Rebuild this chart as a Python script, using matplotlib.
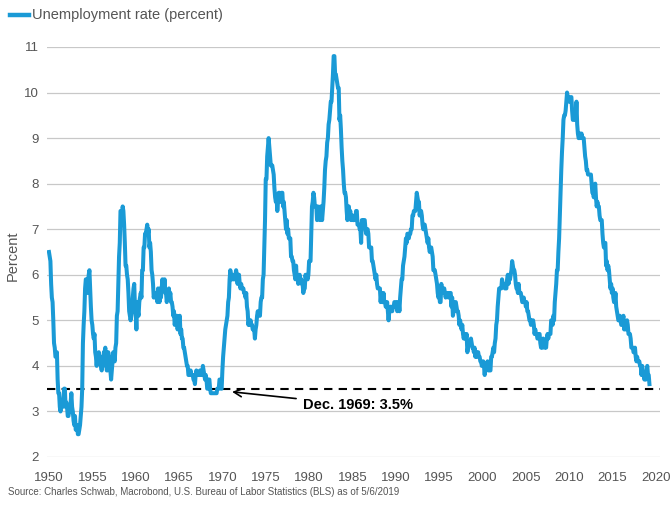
import matplotlib.pyplot as plt
import numpy as np

# US unemployment rate, monthly, Jan 1950 - Apr 2019 (percent)
rate_1950s = [
    6.5, 6.4, 6.3, 5.8, 5.5, 5.4, 5.0, 4.5, 4.4, 4.2, 4.2, 4.3,
    3.7, 3.4, 3.4, 3.1, 3.0, 3.2, 3.1, 3.1, 3.3, 3.5, 3.5, 3.1,
    3.2, 3.1, 2.9, 2.9, 3.0, 3.0, 3.2, 3.4, 3.1, 3.0, 2.8, 2.7,
    2.9, 2.6, 2.6, 2.7, 2.5, 2.5, 2.6, 2.7, 2.9, 3.1, 3.5, 4.5,
    4.9, 5.2, 5.7, 5.9, 5.9, 5.6, 5.8, 6.0, 6.1, 5.7, 5.3, 5.0,
    4.9, 4.7, 4.6, 4.7, 4.3, 4.2, 4.0, 4.2, 4.1, 4.3, 4.2, 4.2,
    4.0, 3.9, 4.2, 4.0, 4.3, 4.3, 4.4, 4.1, 3.9, 3.9, 4.3, 4.2,
    4.2, 3.9, 3.7, 3.9, 4.1, 4.3, 4.2, 4.1, 4.4, 4.5, 5.1, 5.2,
    5.8, 6.4, 6.7, 7.4, 7.4, 7.3, 7.5, 7.4, 7.1, 6.7, 6.2, 6.2,
    6.0, 5.9, 5.6, 5.2, 5.1, 5.0, 5.1, 5.2, 5.5, 5.7, 5.8, 5.3,
]
rate_1960s = [
    5.2, 4.8, 5.4, 5.2, 5.1, 5.4, 5.5, 5.6, 5.5, 6.1, 6.1, 6.6,
    6.6, 6.9, 6.9, 7.0, 7.1, 6.9, 7.0, 6.6, 6.7, 6.5, 6.1, 6.0,
    5.8, 5.5, 5.6, 5.6, 5.5, 5.5, 5.4, 5.7, 5.6, 5.4, 5.7, 5.5,
    5.7, 5.9, 5.7, 5.7, 5.9, 5.6, 5.6, 5.4, 5.5, 5.5, 5.7, 5.5,
    5.6, 5.4, 5.4, 5.3, 5.1, 5.2, 4.9, 5.0, 5.1, 5.1, 4.8, 5.0,
    4.9, 5.1, 4.7, 4.8, 4.6, 4.6, 4.4, 4.4, 4.3, 4.2, 4.1, 4.0,
    4.0, 3.8, 3.8, 3.8, 3.9, 3.8, 3.8, 3.8, 3.7, 3.7, 3.6, 3.8,
    3.9, 3.8, 3.8, 3.8, 3.8, 3.9, 3.8, 3.8, 3.8, 4.0, 3.9, 3.8,
    3.7, 3.8, 3.7, 3.5, 3.5, 3.7, 3.7, 3.5, 3.4, 3.4, 3.4, 3.4,
    3.4, 3.4, 3.4, 3.4, 3.4, 3.5, 3.5, 3.5, 3.7, 3.7, 3.5, 3.5,
]
rate_1970s = [
    3.9, 4.2, 4.4, 4.6, 4.8, 4.9, 5.0, 5.1, 5.4, 5.5, 5.9, 6.1,
    5.9, 5.9, 6.0, 5.9, 5.9, 5.9, 6.0, 6.1, 6.0, 5.8, 6.0, 6.0,
    5.8, 5.7, 5.8, 5.7, 5.7, 5.7, 5.6, 5.6, 5.5, 5.6, 5.3, 5.2,
    4.9, 5.0, 4.9, 5.0, 4.9, 4.9, 4.8, 4.8, 4.8, 4.6, 4.8, 4.9,
    5.1, 5.2, 5.1, 5.1, 5.1, 5.4, 5.5, 5.5, 5.9, 6.0, 6.6, 7.2,
    8.1, 8.1, 8.6, 8.8, 9.0, 8.8, 8.6, 8.4, 8.4, 8.4, 8.3, 8.2,
    7.9, 7.7, 7.6, 7.7, 7.4, 7.6, 7.8, 7.8, 7.6, 7.7, 7.8, 7.8,
    7.5, 7.6, 7.4, 7.2, 7.0, 7.2, 6.9, 7.0, 6.8, 6.8, 6.8, 6.4,
    6.4, 6.3, 6.3, 6.1, 6.0, 5.9, 6.2, 5.9, 6.0, 5.8, 5.9, 6.0,
    5.9, 5.9, 5.8, 5.8, 5.6, 5.7, 5.7, 6.0, 5.9, 6.0, 5.9, 6.0,
]
rate_1980s = [
    6.3, 6.3, 6.3, 6.9, 7.5, 7.6, 7.8, 7.7, 7.5, 7.5, 7.5, 7.2,
    7.5, 7.4, 7.4, 7.2, 7.5, 7.5, 7.2, 7.4, 7.6, 7.9, 8.3, 8.5,
    8.6, 8.9, 9.0, 9.3, 9.4, 9.6, 9.8, 9.8, 10.1, 10.4, 10.8, 10.8,
    10.4, 10.4, 10.3, 10.2, 10.1, 10.1, 9.4, 9.5, 9.2, 8.8, 8.5, 8.3,
    8.0, 7.8, 7.8, 7.7, 7.4, 7.2, 7.5, 7.5, 7.3, 7.4, 7.2, 7.3,
    7.3, 7.2, 7.2, 7.3, 7.2, 7.4, 7.4, 7.1, 7.1, 7.1, 7.0, 7.0,
    6.7, 7.2, 7.2, 7.1, 7.2, 7.2, 7.0, 6.9, 7.0, 7.0, 6.9, 6.6,
    6.6, 6.6, 6.6, 6.3, 6.3, 6.2, 6.1, 6.0, 5.9, 6.0, 5.8, 5.7,
    5.7, 5.7, 5.7, 5.4, 5.6, 5.4, 5.4, 5.6, 5.4, 5.4, 5.3, 5.3,
    5.4, 5.2, 5.0, 5.2, 5.2, 5.3, 5.2, 5.2, 5.3, 5.3, 5.4, 5.4,
]
rate_1990s = [
    5.4, 5.3, 5.2, 5.4, 5.4, 5.2, 5.5, 5.7, 5.9, 5.9, 6.2, 6.3,
    6.4, 6.6, 6.8, 6.7, 6.9, 6.9, 6.8, 6.9, 6.9, 7.0, 7.0, 7.3,
    7.3, 7.4, 7.4, 7.4, 7.6, 7.8, 7.7, 7.6, 7.6, 7.3, 7.4, 7.4,
    7.3, 7.1, 7.0, 7.1, 7.1, 7.0, 6.9, 6.8, 6.7, 6.8, 6.6, 6.5,
    6.6, 6.6, 6.5, 6.4, 6.1, 6.1, 6.1, 6.0, 5.9, 5.8, 5.6, 5.5,
    5.6, 5.4, 5.4, 5.8, 5.6, 5.6, 5.7, 5.7, 5.6, 5.5, 5.6, 5.6,
    5.6, 5.5, 5.5, 5.6, 5.6, 5.3, 5.5, 5.1, 5.2, 5.2, 5.4, 5.4,
    5.3, 5.2, 5.2, 5.1, 4.9, 5.0, 4.9, 4.8, 4.9, 4.7, 4.6, 4.7,
    4.6, 4.6, 4.7, 4.3, 4.4, 4.5, 4.5, 4.5, 4.6, 4.5, 4.4, 4.4,
    4.3, 4.4, 4.2, 4.3, 4.2, 4.3, 4.3, 4.2, 4.2, 4.1, 4.1, 4.0,
]
rate_2000s = [
    4.0, 4.1, 4.0, 3.8, 4.0, 4.0, 4.0, 4.1, 3.9, 3.9, 3.9, 3.9,
    4.2, 4.2, 4.3, 4.4, 4.3, 4.5, 4.6, 4.9, 5.0, 5.3, 5.5, 5.7,
    5.7, 5.7, 5.7, 5.9, 5.8, 5.8, 5.8, 5.7, 5.7, 5.7, 5.9, 6.0,
    5.8, 5.9, 5.9, 6.0, 6.1, 6.3, 6.2, 6.1, 6.1, 6.0, 5.8, 5.7,
    5.7, 5.6, 5.8, 5.6, 5.6, 5.6, 5.5, 5.4, 5.4, 5.5, 5.4, 5.4,
    5.3, 5.4, 5.2, 5.2, 5.1, 5.0, 5.0, 4.9, 5.0, 5.0, 5.0, 4.9,
    4.7, 4.8, 4.7, 4.7, 4.6, 4.6, 4.7, 4.7, 4.5, 4.4, 4.5, 4.4,
    4.6, 4.5, 4.4, 4.5, 4.4, 4.6, 4.7, 4.6, 4.7, 4.7, 4.7, 5.0,
    5.0, 4.9, 5.1, 5.0, 5.4, 5.6, 5.8, 6.1, 6.1, 6.5, 6.8, 7.3,
    7.8, 8.3, 8.7, 9.0, 9.4, 9.5, 9.5, 9.6, 9.8, 10.0, 9.9, 9.9,
]
rate_2010s = [
    9.8, 9.8, 9.9, 9.9, 9.6, 9.4, 9.4, 9.5, 9.5, 9.4, 9.8, 9.3,
    9.1, 9.0, 9.0, 9.1, 9.0, 9.1, 9.0, 9.0, 9.0, 8.8, 8.6, 8.5,
    8.3, 8.3, 8.2, 8.2, 8.2, 8.2, 8.2, 8.0, 7.8, 7.8, 7.7, 7.9,
    8.0, 7.7, 7.5, 7.6, 7.5, 7.5, 7.3, 7.2, 7.2, 7.2, 6.9, 6.7,
    6.6, 6.7, 6.7, 6.2, 6.3, 6.1, 6.2, 6.1, 5.9, 5.7, 5.8, 5.6,
    5.7, 5.5, 5.4, 5.4, 5.6, 5.3, 5.2, 5.1, 5.0, 5.0, 5.1, 5.0,
    4.9, 4.9, 5.0, 5.1, 4.8, 4.9, 4.8, 4.9, 5.0, 4.9, 4.7, 4.7,
    4.7, 4.6, 4.4, 4.4, 4.4, 4.3, 4.3, 4.4, 4.2, 4.1, 4.2, 4.1,
    4.1, 4.1, 4.0, 4.0, 3.8, 4.0, 3.8, 3.8, 3.7, 3.8, 3.7, 3.9,
    4.0, 3.8, 3.8, 3.6,
]
start_year = 1950
ref_level = 3.5
ref_date = 1969 + 11 / 12
year_ticks = list(range(1950, 2021, 5))
y_ticks = list(range(2, 12))

rate = np.array(rate_1950s + rate_1960s + rate_1970s + rate_1980s
                + rate_1990s + rate_2000s + rate_2010s)
dates = start_year + np.arange(len(rate)) / 12

plt.rcParams['font.family'] = ['Liberation Sans', 'DejaVu Sans']
blue = '#1a9ad6'
grey_txt = '#555555'

fig = plt.figure(figsize=(6.7, 5.08), dpi=100)
ax = fig.add_axes([0.0701, 0.1004, 0.915, 0.8071])

ax.plot(dates, rate, color=blue, lw=2.9, solid_joinstyle='round', zorder=3)
ax.axhline(ref_level, color='black', lw=1.5, ls=(0, (4, 3)), zorder=2)

ax.set_xlim(1949.77, 2020.47)
ax.set_ylim(2, 11)
ax.set_xticks(year_ticks)
ax.set_yticks(y_ticks)
ax.grid(axis='y', color='#c8c8c8', lw=0.9)
ax.set_axisbelow(True)
for s in ax.spines.values():
    s.set_visible(False)
ax.tick_params(length=0, labelsize=9.5, colors=grey_txt)
ax.tick_params(axis='x', pad=11)
ax.tick_params(axis='y', pad=6)
ax.set_ylabel('Percent', fontsize=10.5, color=grey_txt)
ax.yaxis.set_label_coords(-0.045, 0.49)

ax.annotate('Dec. 1969: 3.5%', xy=(ref_date + 1.2, 3.43), xytext=(1979.3, 3.14),
            ha='left', va='center', fontsize=10.5, fontweight='bold',
            arrowprops=dict(arrowstyle='->', color='black', lw=1.2,
                            shrinkA=3, shrinkB=0, mutation_scale=14))

# legend at top left
fig.lines.append(plt.Line2D([10 / 670, 29 / 670], [1 - 15 / 508, 1 - 15 / 508],
                            color=blue, lw=3.2, transform=fig.transFigure))
fig.text(32 / 670, 1 - 15 / 508, 'Unemployment rate (percent)', fontsize=10.5,
         color=grey_txt, va='center', ha='left')

fig.text(8 / 670, 1 - 492 / 508,
         'Source: Charles Schwab, Macrobond, U.S. Bureau of Labor Statistics (BLS) as of 5/6/2019',
         fontsize=7, color=grey_txt, va='center', ha='left')

fig.savefig('out.png', dpi=100)
